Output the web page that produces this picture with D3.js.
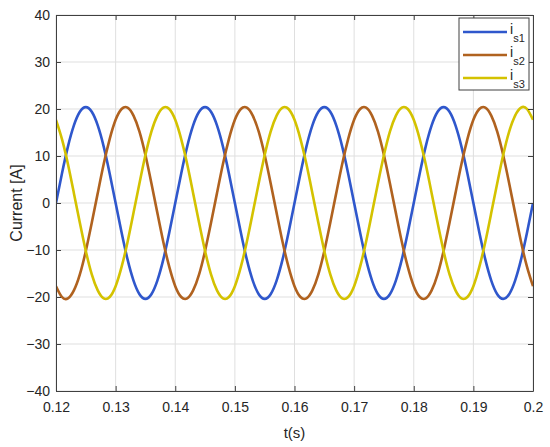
<!DOCTYPE html>
<html>
<head>
<meta charset="utf-8">
<script src="https://cdn.jsdelivr.net/npm/d3@7"></script>
<style>
  body { margin: 0; background: #fff; }
  svg text { font-family: "Liberation Sans", Arial, Helvetica, sans-serif; fill: #262626; }
</style>
</head>
<body>
<div id="chart"></div>
<script>
// time axis, 1 ms steps from 0.12 s to 0.2 s
const timeStart = 0.12, timeStep = 0.001;

// phase currents (A)
const is1 = [
  0, 6.3, 12.0, 16.5, 19.4, 20.4, 19.4, 16.5, 12.0, 6.3, 0, -6.3, -12.0, -16.5, -19.4, -20.4, -19.4, -16.5, -12.0, -6.3,
  0, 6.3, 12.0, 16.5, 19.4, 20.4, 19.4, 16.5, 12.0, 6.3, 0, -6.3, -12.0, -16.5, -19.4, -20.4, -19.4, -16.5, -12.0, -6.3,
  0, 6.3, 12.0, 16.5, 19.4, 20.4, 19.4, 16.5, 12.0, 6.3, 0, -6.3, -12.0, -16.5, -19.4, -20.4, -19.4, -16.5, -12.0, -6.3,
  0, 6.3, 12.0, 16.5, 19.4, 20.4, 19.4, 16.5, 12.0, 6.3, 0, -6.3, -12.0, -16.5, -19.4, -20.4, -19.4, -16.5, -12.0, -6.3,
  0
];
const is2 = [
  -17.7, -20.0, -20.3, -18.6, -15.2, -10.2, -4.2, 2.1, 8.3, 13.6, 17.7, 20.0, 20.3, 18.6, 15.2, 10.2, 4.2, -2.1, -8.3, -13.6,
  -17.7, -20.0, -20.3, -18.6, -15.2, -10.2, -4.2, 2.1, 8.3, 13.6, 17.7, 20.0, 20.3, 18.6, 15.2, 10.2, 4.2, -2.1, -8.3, -13.6,
  -17.7, -20.0, -20.3, -18.6, -15.2, -10.2, -4.2, 2.1, 8.3, 13.6, 17.7, 20.0, 20.3, 18.6, 15.2, 10.2, 4.2, -2.1, -8.3, -13.6,
  -17.7, -20.0, -20.3, -18.6, -15.2, -10.2, -4.2, 2.1, 8.3, 13.6, 17.7, 20.0, 20.3, 18.6, 15.2, 10.2, 4.2, -2.1, -8.3, -13.6,
  -17.7
];
const is3 = [
  17.7, 13.6, 8.3, 2.1, -4.2, -10.2, -15.2, -18.6, -20.3, -20.0, -17.7, -13.6, -8.3, -2.1, 4.2, 10.2, 15.2, 18.6, 20.3, 20.0,
  17.7, 13.6, 8.3, 2.1, -4.2, -10.2, -15.2, -18.6, -20.3, -20.0, -17.7, -13.6, -8.3, -2.1, 4.2, 10.2, 15.2, 18.6, 20.3, 20.0,
  17.7, 13.6, 8.3, 2.1, -4.2, -10.2, -15.2, -18.6, -20.3, -20.0, -17.7, -13.6, -8.3, -2.1, 4.2, 10.2, 15.2, 18.6, 20.3, 20.0,
  17.7, 13.6, 8.3, 2.1, -4.2, -10.2, -15.2, -18.6, -20.3, -20.0, -17.7, -13.6, -8.3, -2.1, 4.2, 10.2, 15.2, 18.6, 20.3, 20.0,
  17.7
];

const seriesNames = ["s1", "s2", "s3"];
const seriesColors = ["#2f57cc", "#b0621f", "#d4c200"];
const xTicks = [0.12, 0.13, 0.14, 0.15, 0.16, 0.17, 0.18, 0.19, 0.2];
const yTicks = [-40, -30, -20, -10, 0, 10, 20, 30, 40];

const width = 550, height = 447;
const margin = {top: 15, right: 17, bottom: 56, left: 56};
const w = width - margin.left - margin.right,
      h = height - margin.top - margin.bottom;

const svg = d3.select("#chart").append("svg")
    .attr("width", width)
    .attr("height", height);

const g = svg.append("g")
    .attr("transform", "translate(" + margin.left + "," + margin.top + ")");

const x = d3.scaleLinear().domain([0.12, 0.2]).range([0, w]);
const y = d3.scaleLinear().domain([-40, 40]).range([h, 0]);

// grid
g.append("g").selectAll("line").data(xTicks).join("line")
    .attr("x1", d => x(d)).attr("x2", d => x(d))
    .attr("y1", 0).attr("y2", h)
    .attr("stroke", "#dfdfdf").attr("stroke-width", 1);
g.append("g").selectAll("line").data(yTicks).join("line")
    .attr("x1", 0).attr("x2", w)
    .attr("y1", d => y(d)).attr("y2", d => y(d))
    .attr("stroke", "#dfdfdf").attr("stroke-width", 1);

// curves
const series = [is1, is2, is3];
const line = d3.line()
    .x((d, i) => x(timeStart + i * timeStep))
    .y(d => y(d))
    .curve(d3.curveNatural);

const clip = svg.append("clipPath").attr("id", "clip")
  .append("rect").attr("width", w).attr("height", h);

g.append("g").attr("clip-path", "url(#clip)")
  .selectAll("path").data(series).join("path")
    .attr("d", d => line(d))
    .attr("fill", "none")
    .attr("stroke", (d, i) => seriesColors[i])
    .attr("stroke-width", 2.6);

// axes, MATLAB style: ticks inside, box on
const fmtX = d => d3.format("")(+d.toFixed(2));
const axisStyle = sel => {
  sel.select(".domain").attr("stroke", "#404040");
  sel.selectAll(".tick line").attr("stroke", "#404040");
  sel.selectAll("text").style("font-size", "14px").attr("fill", "#262626");
};

g.append("g")
    .attr("transform", "translate(0," + h + ")")
    .call(d3.axisBottom(x).tickValues(xTicks).tickSizeInner(-5).tickSizeOuter(0).tickPadding(11).tickFormat(fmtX))
    .call(axisStyle);
g.append("g")
    .call(d3.axisTop(x).tickValues(xTicks).tickSizeInner(-5).tickSizeOuter(0).tickFormat(""))
    .call(axisStyle);
g.append("g")
    .call(d3.axisLeft(y).tickValues(yTicks).tickSizeInner(-5).tickSizeOuter(0).tickPadding(6))
    .call(axisStyle);
g.append("g")
    .attr("transform", "translate(" + w + ",0)")
    .call(d3.axisRight(y).tickValues(yTicks).tickSizeInner(-5).tickSizeOuter(0).tickFormat(""))
    .call(axisStyle);

// axis titles
svg.append("text")
    .attr("x", margin.left + w / 2)
    .attr("y", 438)
    .attr("text-anchor", "middle")
    .style("font-size", "15px")
    .text("t(s)");
svg.append("text")
    .attr("transform", "translate(22," + (margin.top + h / 2) + ") rotate(-90)")
    .attr("text-anchor", "middle")
    .style("font-size", "16px")
    .text("Current [A]");

// legend
const legend = svg.append("g").attr("transform", "translate(459,18)");
legend.append("rect")
    .attr("width", 70).attr("height", 72)
    .attr("fill", "#fff").attr("stroke", "#404040").attr("stroke-width", 1);

const items = legend.selectAll("g.item").data(seriesNames).join("g")
    .attr("class", "item")
    .attr("transform", (d, i) => "translate(0," + (14 + i * 23) + ")");
items.append("line")
    .attr("x1", 4).attr("x2", 48)
    .attr("stroke", (d, i) => seriesColors[i])
    .attr("stroke-width", 2.6);
const lbl = items.append("text")
    .attr("x", 51).attr("y", 2)
    .style("font-size", "14px");
lbl.append("tspan").text("i");
lbl.append("tspan")
    .attr("dy", 8)
    .style("font-size", "11px")
    .text(d => d);
</script>
</body>
</html>
